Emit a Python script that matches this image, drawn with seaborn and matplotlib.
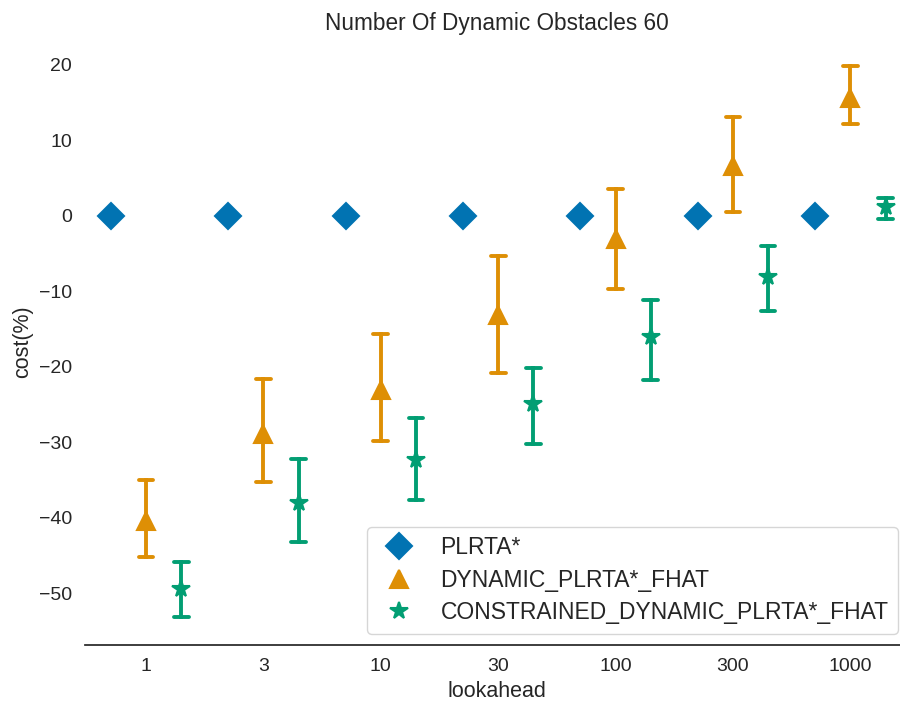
import numpy as np
import pandas as pd
import seaborn as sns
import matplotlib
matplotlib.use("Agg")
import matplotlib.pyplot as plt

# ---- data ----
lookahead = ["1", "3", "10", "30", "100", "300", "1000"]
algorithms = ["PLRTA*", "DYNAMIC_PLRTA*_FHAT", "CONSTRAINED_DYNAMIC_PLRTA*_FHAT"]

plrta_mean = [0, 0, 0, 0, 0, 0, 0]
plrta_lo = [0, 0, 0, 0, 0, 0, 0]
plrta_hi = [0, 0, 0, 0, 0, 0, 0]

dyn_mean = [-40.4, -28.9, -23.1, -13.2, -3.1, 6.6, 15.6]
dyn_lo = [-45.2, -35.2, -29.8, -20.8, -9.7, 0.45, 12.1]
dyn_hi = [-35.0, -21.6, -15.6, -5.3, 3.5, 13.1, 19.9]

con_mean = [-49.5, -38.0, -32.4, -24.9, -16.1, -8.1, 1.2]
con_lo = [-53.2, -43.2, -37.7, -30.2, -21.7, -12.6, -0.4]
con_hi = [-45.9, -32.2, -26.8, -20.1, -11.2, -4.0, 2.3]

series = {
    algorithms[0]: (plrta_lo, plrta_mean, plrta_hi),
    algorithms[1]: (dyn_lo, dyn_mean, dyn_hi),
    algorithms[2]: (con_lo, con_mean, con_hi),
}

rows = []
for alg, (lo, mid, hi) in series.items():
    for i, la in enumerate(lookahead):
        for v in (lo[i], mid[i], hi[i]):
            rows.append({"lookahead": la, "algorithm": alg, "cost(%)": v})
df = pd.DataFrame(rows)

sns.set_theme(style="white", palette="colorblind")
plt.rcParams["font.family"] = ["Liberation Sans", "DejaVu Sans"]
plt.rcParams["text.color"] = ".15"
plt.rcParams["axes.labelcolor"] = ".15"
plt.rcParams["xtick.color"] = ".15"
plt.rcParams["ytick.color"] = ".15"

fig = plt.figure(figsize=(9, 7.02), dpi=100)
ax = fig.add_axes([85 / 900, 57 / 702, 824 / 900, 607 / 702])

sns.pointplot(
    data=df, x="lookahead", y="cost(%)", hue="algorithm",
    order=lookahead, hue_order=algorithms,
    estimator="median", errorbar=("pi", 100),
    markers=["D", "^", "*"], linestyles="none",
    dodge=0.6, capsize=0.125,
    err_kws={"linewidth": 2.8},
    markersize=13, markeredgewidth=1.5,
    ax=ax,
)

sns.despine(ax=ax, left=True)
ax.set_title("Number Of Dynamic Obstacles 60", fontsize=16.3)
ax.set_xlabel("lookahead", fontsize=15.5)
ax.set_ylabel("cost(%)", fontsize=15.5)
ax.tick_params(axis="both", labelsize=14)
ax.set_xlim(-0.52, 6.5)
ax.legend(loc="lower right", fontsize=16.5, title=None, frameon=True,
          handletextpad=0.8, labelspacing=0.42)

fig.savefig("out.png", dpi=100)
